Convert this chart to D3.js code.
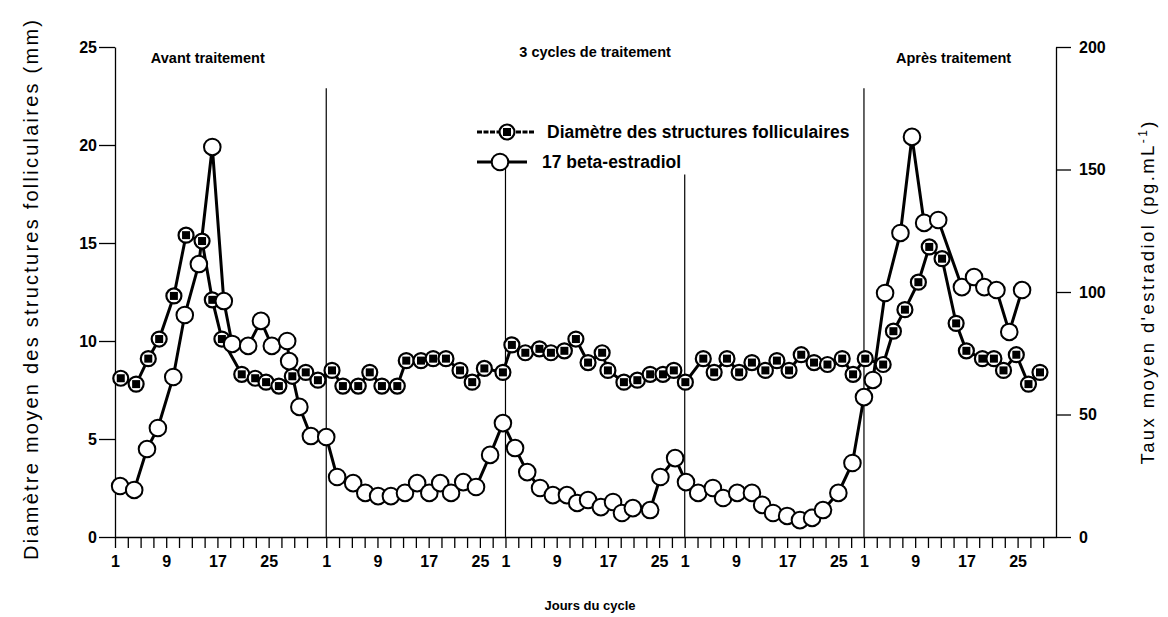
<!DOCTYPE html>
<html lang="fr">
<head>
    <meta charset="UTF-8">
    <title>Diamètre folliculaire et 17 beta-estradiol</title>
    <style>
        body { margin: 0; background: #fff; }
        text { font-family: Arial, "Liberation Sans", Helvetica, sans-serif; fill: #000; }
        .axis path, .axis line { stroke: #000; stroke-width: 1.3; }
        .axis text { font-size: 16px; font-weight: bold; }
    </style>
</head>
<body>
    <script src="https://cdn.jsdelivr.net/npm/d3@7"></script>
    <script>
        // cycles: avant traitement, 3 cycles de traitement, après traitement
        const cycleLengths = [33, 28, 28, 28, 30];
        const dayLabels = [1, 9, 17, 25];
        const leftTicks = [0, 5, 10, 15, 20, 25];
        const rightTicks = [0, 50, 100, 150, 200];
        const periodTitles = ["Avant traitement", "3 cycles de traitement", "Après traitement"];

        // diamètre moyen des structures folliculaires (mm), per cycle
        const diamDays = [
            [1.9, 4.3, 6.2, 7.9, 10.2, 12.1, 14.6, 16.2, 17.7, 20.8, 22.9, 24.6, 26.6, 28.7, 30.8, 32.7],
            [1.9, 3.6, 6.0, 7.8, 9.7, 12.1, 13.5, 15.8, 17.7, 19.7, 21.9, 23.8, 25.7, 28.6],
            [2.0, 4.1, 6.3, 8.1, 10.2, 12.0, 13.9, 16.1, 17.0, 19.5, 21.6, 23.6, 25.6, 27.3],
            [1.1, 3.9, 5.6, 7.6, 9.5, 11.5, 13.6, 15.4, 17.3, 19.2, 21.2, 23.3, 25.6, 27.3],
            [1.2, 4.0, 5.6, 7.4, 9.5, 11.2, 13.2, 15.4, 17.0, 19.5, 21.3, 22.8, 24.8, 26.7, 28.5]
        ];
        const diamValues = [
            [8.1, 7.8, 9.1, 10.1, 12.3, 15.4, 15.1, 12.1, 10.1, 8.3, 8.1, 7.9, 7.7, 8.2, 8.4, 8.0],
            [8.5, 7.7, 7.7, 8.4, 7.7, 7.7, 9.0, 9.0, 9.1, 9.1, 8.5, 7.9, 8.6, 8.4],
            [9.8, 9.4, 9.6, 9.4, 9.5, 10.1, 8.9, 9.4, 8.5, 7.9, 8.0, 8.3, 8.3, 8.5],
            [7.9, 9.1, 8.4, 9.1, 8.4, 8.9, 8.5, 9.0, 8.5, 9.3, 8.9, 8.8, 9.1, 8.3],
            [9.1, 8.8, 10.5, 11.6, 13.0, 14.8, 14.2, 10.9, 9.5, 9.1, 9.1, 8.5, 9.3, 7.8, 8.4]
        ];

        // taux moyen de 17 beta-estradiol (pg/mL), per cycle
        const e2Days = [
            [1.8, 4.0, 6.0, 7.7, 10.1, 11.9, 14.1, 16.2, 18.0, 19.3, 21.8, 23.8, 25.5, 27.9, 28.2, 29.8, 31.6],
            [1.0, 2.7, 5.2, 7.1, 9.1, 11.1, 13.3, 15.2, 17.1, 18.8, 20.5, 22.4, 24.4, 26.6, 28.6],
            [2.5, 4.4, 6.4, 8.4, 10.6, 12.2, 13.9, 15.9, 17.8, 19.2, 20.9, 23.6, 25.2, 27.5],
            [1.2, 3.1, 5.4, 7.0, 9.2, 11.5, 13.1, 14.8, 17.0, 19.0, 20.9, 22.6, 25.0, 27.2],
            [1.0, 2.4, 4.3, 6.7, 8.5, 10.4, 12.6, 16.3, 18.2, 19.8, 21.7, 23.7, 25.7]
        ];
        const e2Values = [
            [20.8, 19.2, 35.9, 44.5, 65.3, 90.6, 111.4, 159.2, 96.3, 78.8, 78.0, 88.2, 78.0, 80.0, 71.8, 53.1, 41.2],
            [40.8, 24.5, 22.0, 18.0, 16.7, 16.7, 18.0, 22.0, 18.0, 22.0, 18.0, 22.4, 20.4, 33.5, 46.5],
            [36.3, 26.5, 20.0, 17.1, 17.1, 13.9, 15.1, 12.2, 14.3, 9.8, 11.8, 11.0, 24.5, 32.2],
            [22.4, 18.0, 20.0, 15.9, 18.0, 18.0, 13.1, 9.8, 8.6, 6.9, 7.8, 11.0, 18.0, 30.2],
            [57.1, 64.1, 99.6, 124.1, 163.3, 128.2, 129.4, 102.0, 106.1, 102.0, 100.8, 83.7, 100.8]
        ];

        const width = 1168,
            height = 617,
            margin = { left: 115, right: 112, top: 47, bottom: 80 },
            svg = d3.select('body').append('svg')
                .attr('width', width).attr('height', height);

        const cycleStarts = d3.cumsum([0].concat(cycleLengths.slice(0, -1)));
        const totalDays = d3.sum(cycleLengths);

        const x = d3.scaleLinear().domain([0, totalDays]).range([margin.left, width - margin.right]);
        const yL = d3.scaleLinear().domain([0, 25]).range([height - margin.bottom, margin.top]);
        const yR = d3.scaleLinear().domain([0, 200]).range([height - margin.bottom, margin.top]);

        function flatten(days, values) {
            const out = [];
            days.forEach(function(arr, c) {
                arr.forEach(function(d, i) {
                    out.push({ pos: cycleStarts[c] + d - 1, v: values[c][i] });
                });
            });
            return out;
        }
        const diam = flatten(diamDays, diamValues);
        const e2 = flatten(e2Days, e2Values);

        // x ticks every 2 days in each cycle
        const xTicks = [];
        cycleLengths.forEach(function(len, c) {
            for (let off = 0; off < len - 1; off += 2) {
                xTicks.push({ pos: cycleStarts[c] + off, day: off + 1 });
            }
        });

        svg.append('g').attr('class', 'axis')
            .attr('transform', 'translate(0,' + yL(0) + ')')
            .call(d3.axisBottom(x)
                .tickValues(xTicks.map(function(t) { return t.pos; }))
                .tickSize(11).tickSizeOuter(0).tickPadding(8)
                .tickFormat(function(p) {
                    const t = xTicks.find(function(t) { return t.pos === p; });
                    return dayLabels.indexOf(t.day) >= 0 ? t.day : '';
                }));

        svg.append('g').attr('class', 'axis')
            .attr('transform', 'translate(' + x(0) + ',0)')
            .call(d3.axisLeft(yL).tickValues(leftTicks).tickSize(16).tickSizeOuter(0).tickPadding(2));

        svg.append('g').attr('class', 'axis')
            .attr('transform', 'translate(' + x(totalDays) + ',0)')
            .call(d3.axisRight(yR).tickValues(rightTicks).tickSize(15).tickSizeOuter(0).tickPadding(8));

        // separators between cycles
        const sepTops = [22.9, 19.1, 18.5, 22.9];
        svg.append('g').selectAll('line')
            .data(cycleStarts.slice(1))
            .enter().append('line')
            .attr('x1', function(d) { return x(d); })
            .attr('x2', function(d) { return x(d); })
            .attr('y1', yL(0))
            .attr('y2', function(d, i) { return yL(sepTops[i]); })
            .attr('stroke', '#000').attr('stroke-width', 1.2);

        // period titles
        const titlePos = [14.5, 75, 131];
        svg.append('g').selectAll('text')
            .data(periodTitles)
            .enter().append('text')
            .attr('x', function(d, i) { return x(titlePos[i]); })
            .attr('y', function(d, i) { return i === 1 ? 57 : 63; })
            .attr('text-anchor', 'middle')
            .style('font-size', '14.5px').style('font-weight', 'bold')
            .text(function(d) { return d; });

        // lines
        const line = d3.line()
            .x(function(d) { return x(d.pos); });

        svg.append('path').datum(diam)
            .attr('d', line.y(function(d) { return yL(d.v); }))
            .attr('fill', 'none').attr('stroke', '#000').attr('stroke-width', 3);

        svg.append('path').datum(e2)
            .attr('d', line.y(function(d) { return yR(d.v); }))
            .attr('fill', 'none').attr('stroke', '#000').attr('stroke-width', 3);

        function diamMarker(g) {
            g.append('circle').attr('r', 7.5)
                .attr('fill', '#fff').attr('stroke', '#000').attr('stroke-width', 2.2);
            g.append('rect').attr('x', -4).attr('y', -4).attr('width', 8).attr('height', 8)
                .attr('fill', '#000');
        }
        function e2Marker(g) {
            g.append('circle').attr('r', 8.3)
                .attr('fill', '#fff').attr('stroke', '#000').attr('stroke-width', 2);
        }

        svg.append('g').selectAll('g')
            .data(diam)
            .enter().append('g')
            .attr('transform', function(d) { return 'translate(' + x(d.pos) + ',' + yL(d.v) + ')'; })
            .call(diamMarker);

        svg.append('g').selectAll('g')
            .data(e2)
            .enter().append('g')
            .attr('transform', function(d) { return 'translate(' + x(d.pos) + ',' + yR(d.v) + ')'; })
            .call(e2Marker);

        // legend
        const legend = svg.append('g');
        const leg1 = legend.append('g').attr('transform', 'translate(477,132)');
        leg1.append('line').attr('x1', 0).attr('x2', 58)
            .attr('stroke', '#000').attr('stroke-width', 3).attr('stroke-dasharray', '5,1.5');
        leg1.append('g').attr('transform', 'translate(30,0)').call(diamMarker);
        leg1.append('text').attr('x', 70).attr('y', 6)
            .style('font-size', '17.5px').style('font-weight', 'bold')
            .text('Diamètre des structures folliculaires');

        const leg2 = legend.append('g').attr('transform', 'translate(477,162)');
        leg2.append('line').attr('x1', 0).attr('x2', 50)
            .attr('stroke', '#000').attr('stroke-width', 3);
        leg2.append('g').attr('transform', 'translate(23,0)').call(e2Marker);
        leg2.append('text').attr('x', 65).attr('y', 6)
            .style('font-size', '17.5px').style('font-weight', 'bold')
            .text('17 beta-estradiol');

        // axis titles
        svg.append('text')
            .attr('transform', 'translate(38,290) rotate(-90)')
            .attr('text-anchor', 'middle')
            .attr('textLength', 540).attr('lengthAdjust', 'spacing')
            .style('font-size', '20px')
            .text('Diamètre moyen des structures folliculaires  (mm)');

        const rt = svg.append('text')
            .attr('transform', 'translate(1154,293) rotate(-90)')
            .attr('text-anchor', 'middle')
            .attr('textLength', 343).attr('lengthAdjust', 'spacing')
            .style('font-size', '18.5px');
        rt.append('tspan').text("Taux moyen d'estradiol (pg.mL");
        rt.append('tspan').attr('baseline-shift', 'super').style('font-size', '12px').text('-1');
        rt.append('tspan').text(')');

        svg.append('text')
            .attr('x', 590).attr('y', 610)
            .attr('text-anchor', 'middle')
            .style('font-size', '13px').style('font-weight', 'bold')
            .text('Jours du cycle');
    </script>
</body>
</html>
